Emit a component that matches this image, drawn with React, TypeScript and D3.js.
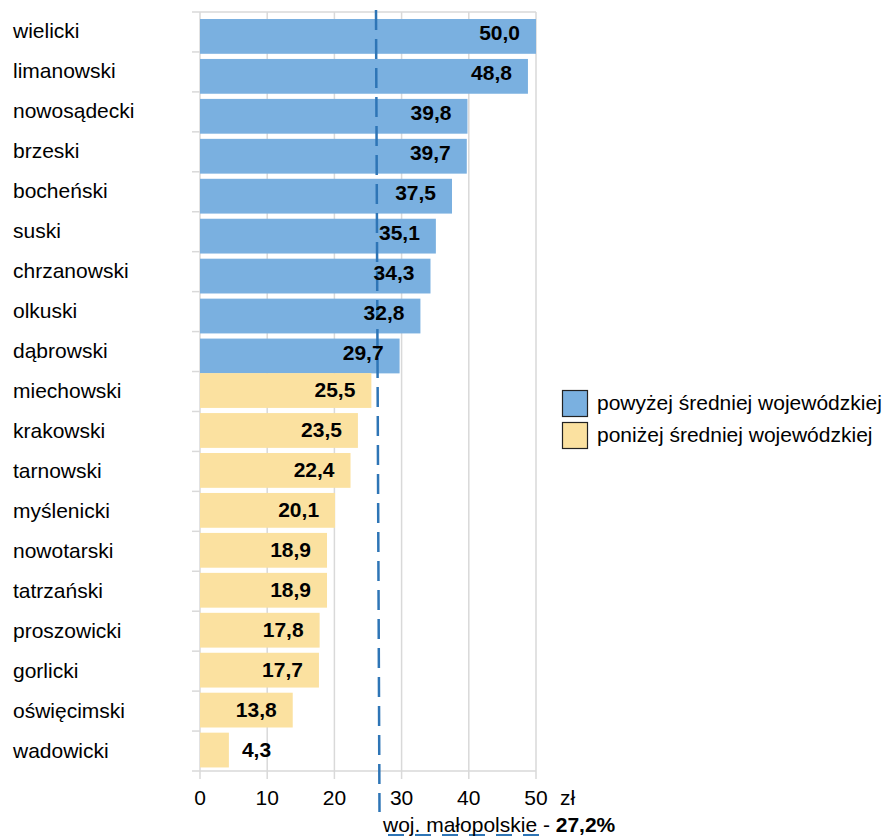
import React from "react";
import * as d3 from "d3";

const categories = ["wielicki","limanowski","nowosądecki","brzeski","bocheński","suski","chrzanowski","olkuski","dąbrowski","miechowski","krakowski","tarnowski","myślenicki","nowotarski","tatrzański","proszowicki","gorlicki","oświęcimski","wadowicki"];
const values = [50.0,48.8,39.8,39.7,37.5,35.1,34.3,32.8,29.7,25.5,23.5,22.4,20.1,18.9,18.9,17.8,17.7,13.8,4.3];
const xTicks = [0,10,20,30,40,50];
const average = 27.2;
const legendLabels = ["powyżej średniej wojewódzkiej","poniżej średniej wojewódzkiej"];

const BLUE = "#7AB0E0";
const YELLOW = "#FBE1A0";
const FONT = "Liberation Sans, Arial, sans-serif";
const FS = 21;

export default function App() {
  const W = 889, H = 838;
  const x = d3.scaleLinear().domain([0, 50]).range([200, 536]);
  const y = d3.scaleBand<string>().domain(categories).range([12, 771]).padding(0);
  const step = y.step();
  const BH = 34.8;
  const barTop = (c: string, above: boolean) => y(c)! + (above ? 7 : 1.6);
  const fmt = (v: number) => v.toFixed(1).replace(".", ",");
  const avgX = 377;
  return (
    <svg width={W} height={H} style={{ position: "absolute", left: 0, top: 0 }} fontFamily={FONT}>
      <rect width={W} height={H} fill="#fff" />
      {xTicks.map(t => (
        <line key={"g" + t} x1={x(t)} x2={x(t)} y1={12} y2={779} stroke="#D9D9D9" strokeWidth={1.5} />
      ))}
      <line x1={200} x2={536} y1={12} y2={12} stroke="#D9D9D9" strokeWidth={1.5} />
      {categories.map((c, i) => (
        <line key={"b" + i} x1={192} x2={200} y1={y(c)!} y2={y(c)!} stroke="#D9D9D9" strokeWidth={1.5} />
      ))}
      <line x1={192} x2={536} y1={771} y2={771} stroke="#D9D9D9" strokeWidth={1.5} />
      {categories.map((c, i) => {
        const v = values[i];
        const above = v > average;
        return (
          <g key={c}>
            <rect x={x(0)} y={barTop(c, above)} width={x(v) - x(0)} height={BH} fill={above ? BLUE : YELLOW} />
            <text x={13} y={y(c)! + step / 2 + 6.5} fontSize={FS} fill="#000">{c}</text>
          </g>
        );
      })}
      <line x1={avgX - 1} x2={avgX + 2.5} y1={10} y2={812} stroke="#2E75B6" strokeWidth={2.5} strokeDasharray="20 9" />
      <line x1={388} x2={540} y1={835} y2={835} stroke="#2E75B6" strokeWidth={2} strokeDasharray="16 11" />
      {categories.map((c, i) => {
        const v = values[i];
        const above = v > average;
        const cy = barTop(c, above) + BH / 2;
        const inside = v >= 10;
        return (
          <text key={"v" + c} x={inside ? x(v) - 16 : x(v) + 13} y={cy + (above ? 4 : 6.5)} fontSize={FS} fontWeight="bold"
            textAnchor={inside ? "end" : "start"} fill="#000">{fmt(v)}</text>
        );
      })}
      {xTicks.map(t => (
        <text key={"t" + t} x={x(t)} y={805} textAnchor="middle" fontSize={FS} fill="#000">{t}</text>
      ))}
      <text x={560} y={805} fontSize={FS} fill="#000">zł</text>
      <text x={383} y={832} fontSize={FS} fill="#000">
        woj. małopolskie - <tspan fontWeight="bold">27,2%</tspan>
      </text>
      {legendLabels.map((l, i) => (
        <g key={l}>
          <rect x={562.5} y={390.5 + i * 32} width={25} height={26} fill={i === 0 ? BLUE : YELLOW} stroke="#222" strokeWidth={1.2} />
          <text x={597} y={410 + i * 32} fontSize={FS} fill="#000">{l}</text>
        </g>
      ))}
    </svg>
  );
}
